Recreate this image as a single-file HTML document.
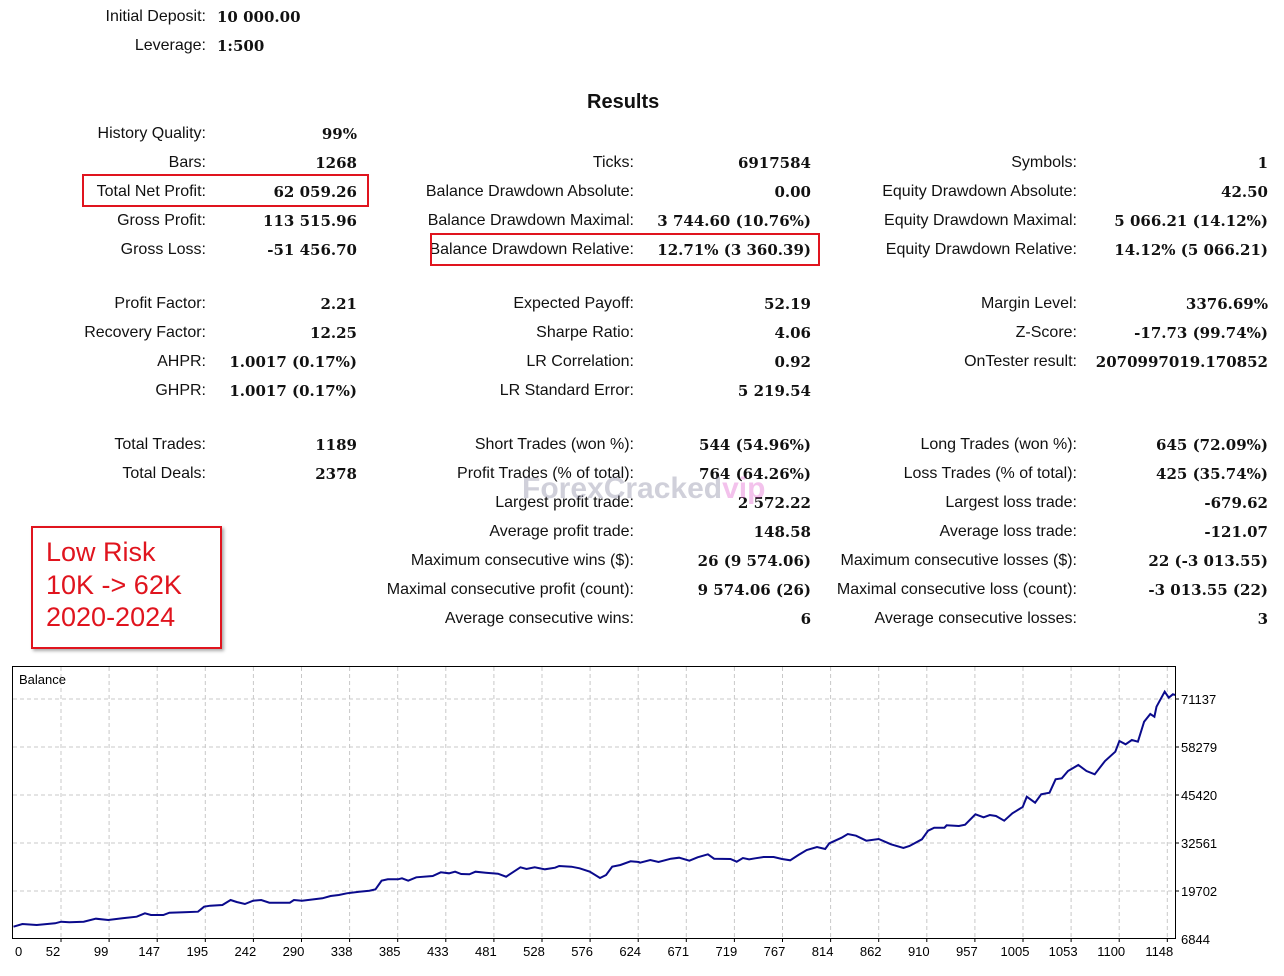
<!DOCTYPE html>
<html><head><meta charset="utf-8"><style>
body{margin:0;width:1284px;height:976px;background:#fff;position:relative;font-family:"Liberation Sans",sans-serif;overflow:hidden}
.t{position:absolute;font-size:16px;color:#111;white-space:nowrap;line-height:20px;transform:translateY(-9px)}
.l{text-align:right}
.v{font-family:"DejaVu Serif","Liberation Serif",serif;font-weight:bold;font-size:15px}
.box{position:absolute;border:2px solid #e0141e}
</style></head><body>
<div id="c"></div>
<div class="box" style="left:82px;top:174px;width:283px;height:29px"></div>
<div class="box" style="left:430px;top:233px;width:386px;height:29px"></div>
<div class="box" style="left:31px;top:526px;width:187px;height:119px;box-shadow:2px 2px 3px #aaa"></div>
<div style="position:absolute;left:46px;top:536px;font-size:27px;line-height:32.5px;color:#e0141e;font-family:'Liberation Sans',sans-serif">Low Risk<br>10K -&gt; 62K<br>2020-2024</div>
<div style="position:absolute;left:522px;top:472px;font-size:30px;font-weight:bold;color:rgba(120,120,150,0.35);font-family:'Liberation Sans',sans-serif">ForexCracked<span style="color:rgba(220,80,200,0.35)">vip</span></div>
<svg style="position:absolute;left:0;top:0" width="1284" height="976">
<g stroke="#c8c8c8" stroke-dasharray="4,3" stroke-width="1" id="grid"></g>
<rect x="12.5" y="666.5" width="1163" height="272" fill="none" stroke="#000"/>
<text x="19" y="684" font-size="13" font-family="Liberation Sans,sans-serif">Balance</text>
<g font-size="13" font-family="Liberation Sans,sans-serif" id="lab"></g>
<path id="p" fill="none" stroke="#0a0a8c" stroke-width="2"/>
</svg>
<script>
var c=document.getElementById('c'),h='';
function L(x,y,s){h+='<div class="t l" style="right:'+(1284-x)+'px;top:'+y+'px">'+s+'</div>';}
function V(x,y,s){h+='<div class="t v l" style="right:'+(1284-x)+'px;top:'+y+'px">'+s+'</div>';}
L(206,16,"Initial Deposit:");h+='<div class="t v" style="left:217px;top:16px">10 000.00</div>';
L(206,45,"Leverage:");h+='<div class="t v" style="left:217px;top:45px">1:500</div>';
h+='<div class="t" style="left:587px;top:101px;font-weight:bold;font-size:20px">Results</div>';
var c1=[[133,"History Quality:","99%"],[162,"Bars:","1268"],[191,"Total Net Profit:","62 059.26"],[220,"Gross Profit:","113 515.96"],[249,"Gross Loss:","-51 456.70"],[303,"Profit Factor:","2.21"],[332,"Recovery Factor:","12.25"],[361,"AHPR:","1.0017 (0.17%)"],[390,"GHPR:","1.0017 (0.17%)"],[444,"Total Trades:","1189"],[473,"Total Deals:","2378"]];
var c2=[[162,"Ticks:","6917584"],[191,"Balance Drawdown Absolute:","0.00"],[220,"Balance Drawdown Maximal:","3 744.60 (10.76%)"],[249,"Balance Drawdown Relative:","12.71% (3 360.39)"],[303,"Expected Payoff:","52.19"],[332,"Sharpe Ratio:","4.06"],[361,"LR Correlation:","0.92"],[390,"LR Standard Error:","5 219.54"],[444,"Short Trades (won %):","544 (54.96%)"],[473,"Profit Trades (% of total):","764 (64.26%)"],[502,"Largest profit trade:","2 572.22"],[531,"Average profit trade:","148.58"],[560,"Maximum consecutive wins ($):","26 (9 574.06)"],[589,"Maximal consecutive profit (count):","9 574.06 (26)"],[618,"Average consecutive wins:","6"]];
var c3=[[162,"Symbols:","1"],[191,"Equity Drawdown Absolute:","42.50"],[220,"Equity Drawdown Maximal:","5 066.21 (14.12%)"],[249,"Equity Drawdown Relative:","14.12% (5 066.21)"],[303,"Margin Level:","3376.69%"],[332,"Z-Score:","-17.73 (99.74%)"],[361,"OnTester result:","2070997019.170852"],[444,"Long Trades (won %):","645 (72.09%)"],[473,"Loss Trades (% of total):","425 (35.74%)"],[502,"Largest loss trade:","-679.62"],[531,"Average loss trade:","-121.07"],[560,"Maximum consecutive losses ($):","22 (-3 013.55)"],[589,"Maximal consecutive loss (count):","-3 013.55 (22)"],[618,"Average consecutive losses:","3"]];
c1.forEach(r=>{L(206,r[0],r[1]);V(357,r[0],r[2]);});
c2.forEach(r=>{L(634,r[0],r[1]);V(811,r[0],r[2]);});
c3.forEach(r=>{L(1077,r[0],r[1]);V(1268,r[0],r[2]);});
c.innerHTML=h;
var g='',lb='';
var yl=["71137","58279","45420","32561","19702"];
for(var i=0;i<5;i++){var y=699+48*i;g+='<line x1="13" x2="1175" y1="'+y+'" y2="'+y+'"/>';lb+='<line x1="1175" x2="1179" y1="'+y+'" y2="'+y+'" stroke="#000"/><text x="1181" y="'+(y+5)+'">'+yl[i]+'</text>';}
lb+='<text x="1181" y="944">6844</text>';
var xl=["52","99","147","195","242","290","338","385","433","481","528","576","624","671","719","767","814","862","910","957","1005","1053","1100","1148"];
lb+='<text x="15" y="956">0</text>';
for(var i=0;i<24;i++){var x=61+48.1*i;g+='<line x1="'+x+'" x2="'+x+'" y1="667" y2="938"/>';lb+='<line x1="'+x+'" x2="'+x+'" y1="938" y2="942" stroke="#000"/><text x="'+(x-8)+'" y="956" text-anchor="middle">'+xl[i]+'</text>';}
document.getElementById('grid').innerHTML=g;document.getElementById('lab').innerHTML=lb;
var a=[[33,800],[55,792],[90,795],[135,790],[150,785],[170,787],[205,785],[235,776],[265,780],[300,775],[335,770],[355,760],[370,765],[400,765],[415,758],[450,757],[485,755],[500,740],[515,737],[545,735],[565,720],[580,726],[600,732],[620,722],[640,720],[660,728],[710,728],[720,720],[740,722],[790,715],[810,708],[830,705],[850,700],[880,695],[905,692],[920,688],[935,662],[950,658],[975,658],[985,655],[1000,662],[1020,652],[1060,648],[1080,637],[1100,640],[1115,635],[1130,642],[1150,643],[1165,635],[1190,638],[1220,641],[1240,650],[1255,638],[1275,622],[1290,627],[1310,622],[1335,628],[1360,623],[1370,618],[1400,620],[1420,625],[1445,635],[1470,654],[1485,645],[1500,620],[1520,615],[1545,604],[1565,606]];
var b=[[0,608],[25,600],[45,606],[75,596],[95,593],[120,602],[140,592],[165,583],[180,596],[220,597],[235,605],[250,594],[265,598],[280,595],[300,591],[325,591],[345,597],[365,601],[385,585],[405,570],[430,561],[450,567],[460,550],[490,533],[505,522],[525,527],[550,542],[580,537],[610,553],[640,564],[655,558],[685,538],[700,512],[715,503],[740,503],[745,496],[775,498],[790,494],[815,463],[835,472],[850,465],[865,468],[885,482],[905,460],[930,441],[940,410],[960,428],[975,403],[995,398],[1010,358],[1025,355],[1040,333],[1065,315],[1085,333],[1105,343],[1130,303],[1155,275],[1165,243],[1180,253],[1195,240],[1210,245],[1225,185],[1240,162],[1250,170],[1255,140],[1275,95],[1285,113],[1295,103],[1300,105]];
var d='';
a.forEach((p,i)=>{d+=(i?'L':'M')+(p[0]/2.45).toFixed(1)+','+(660+p[1]/3).toFixed(1);});
b.forEach(p=>{d+='L'+(640+p[0]/2.43).toFixed(1)+','+(660+p[1]/3).toFixed(1);});
document.getElementById('p').setAttribute('d',d);
</script>
</body></html>
